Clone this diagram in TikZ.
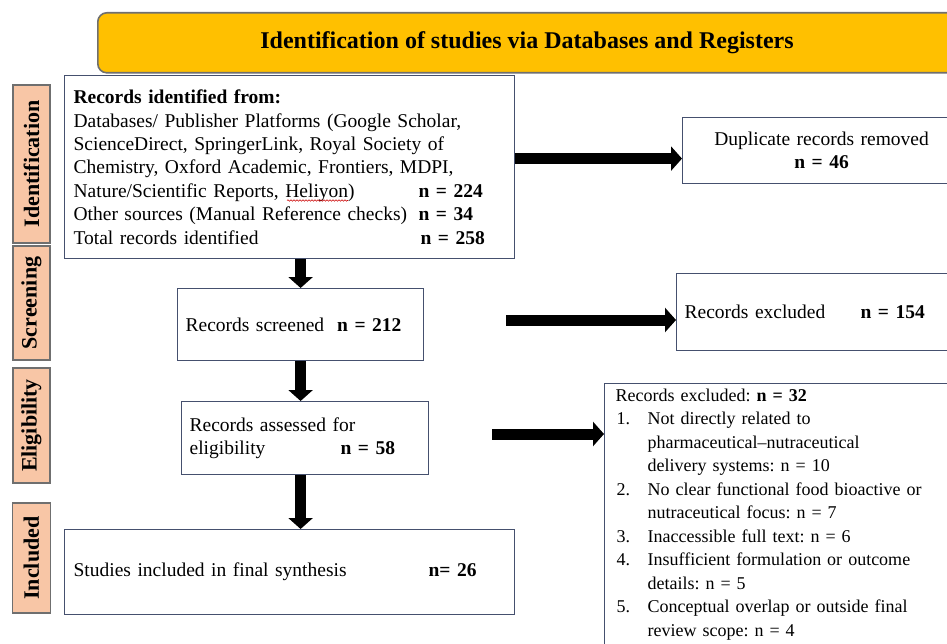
\documentclass[tikz,border=0pt]{standalone}
\usepackage{fontspec}
\setmainfont{Liberation Serif}
\usetikzlibrary{arrows.meta,calc,decorations.pathmorphing}
\definecolor{titlefill}{HTML}{FFC000}
\definecolor{titleline}{HTML}{6F6F6F}
\definecolor{peach}{HTML}{F8C6A6}
\definecolor{boxline}{HTML}{45506E}
\tikzset{
  box/.style={draw=boxline, line width=1.2pt, fill=white, rectangle, inner sep=0pt, anchor=north west},
  side/.style={draw=titleline, line width=1.2pt, fill=peach, rectangle, rotate=90, inner sep=0pt,
    font=\fontsize{22}{24}\selectfont\bfseries},
  fat/.style={line width=11pt, -{Triangle[width=24pt,length=11pt]}, black},
  body/.style={font=\fontsize{19.5}{23.4}\selectfont\frenchspacing},
  small/.style={font=\fontsize{18}{23.5}\selectfont\frenchspacing}
}
\begin{document}
\begin{tikzpicture}[x=1pt,y=-1pt]
\useasboundingbox (0,0) rectangle (947,644);
\begin{scope}
\clip (0,0) rectangle (947,644);
% title
\node[draw=titleline, line width=1.6pt, fill=titlefill, rounded corners=9pt, rectangle,
  minimum width=863pt, minimum height=60pt, anchor=north west, inner sep=0pt] (title) at (97,12) {};
\node[font=\fontsize{24}{26}\selectfont\bfseries] (titletext) at (527,43) {Identification of studies via Databases and Registers};
% side labels
\node[side, minimum width=158pt, minimum height=37pt] (sid) at (31.5,164) {Identification};
\node[side, minimum width=114pt, minimum height=37pt] (ssc) at (31.5,303) {Screening};
\node[side, minimum width=115pt, minimum height=37pt] (sel) at (31.5,425.5) {Eligibility};
\node[side, minimum width=110pt, minimum height=38pt] (sin) at (31.5,558) {Included};
% main boxes
\node[box, body, minimum width=450pt, minimum height=183pt, text width=432pt, inner xsep=9pt, align=left] (idbox) at (64,75)
{\textbf{Records identified from:}\\
Databases/ Publisher Platforms (Google Scholar,\\
ScienceDirect, SpringerLink, Royal Society of\\
Chemistry, Oxford Academic, Frontiers, MDPI,\\
\makebox[345pt][l]{Nature/Scientific Reports, Heliyon)}\textbf{n = 224}\\
\makebox[345pt][l]{Other sources (Manual Reference checks)}\textbf{n = 34}\\
\makebox[347pt][l]{Total records identified}\textbf{n = 258}};
\node[box, body, minimum width=246pt, minimum height=72pt, text width=230pt, inner xsep=8pt, align=left] (screen) at (177,288)
{Records screened\ \ \textbf{n = 212}};
\node[box, body, minimum width=247pt, minimum height=73pt, text width=231pt, inner xsep=8pt, align=left] (elig) at (181,401)
{Records assessed for\\ \makebox[151pt][l]{eligibility}\textbf{n = 58}};
\node[box, body, minimum width=450pt, minimum height=85pt, text width=432pt, inner xsep=9pt, align=left] (incl) at (64,529)
{\makebox[355pt][l]{Studies included in final synthesis}\textbf{n= 26}};
% right boxes
\node[box, body, minimum width=278pt, minimum height=66pt, text width=270pt, inner xsep=4pt, align=center] (dup) at (682,117)
{Duplicate records removed\\ \textbf{n = 46}};
\node[box, body, minimum width=284pt, minimum height=77pt, text width=276pt, inner xsep=8pt, align=left] (excl) at (676,273)
{\makebox[176pt][l]{Records excluded}\textbf{n = 154}};
\node[box, small, minimum width=356pt, text width=344pt, inner xsep=11pt, inner ysep=5pt, align=left] (excl2) at (604,383)
{Records excluded: \textbf{n = 32}\\
\makebox[32pt][l]{\hspace*{1pt}1.}Not directly related to\\
\hspace*{32pt}pharmaceutical–nutraceutical\\
\hspace*{32pt}delivery systems: n = 10\\
\makebox[32pt][l]{\hspace*{1pt}2.}No clear functional food bioactive or\\
\hspace*{32pt}nutraceutical focus: n = 7\\
\makebox[32pt][l]{\hspace*{1pt}3.}Inaccessible full text: n = 6\\
\makebox[32pt][l]{\hspace*{1pt}4.}Insufficient formulation or outcome\\
\hspace*{32pt}details: n = 5\\
\makebox[32pt][l]{\hspace*{1pt}5.}Conceptual overlap or outside final\\
\hspace*{32pt}review scope: n = 4\\
\strut};
% arrows
\draw[fat] (idbox.south -| screen.north) -- (screen.north);
\draw[fat] (screen.south) -- (elig.north -| screen.south);
\draw[fat] (elig.south -| screen.south) -- (incl.north -| screen.south);
\draw[fat] ($(idbox.east |- dup.west)+(0,8)$) -- ($(dup.west)+(0,8)$);
\coordinate (scfree) at (506,320);
\draw[fat] (scfree) -- (scfree -| excl.west);
\coordinate (elfree) at (492,434);
\draw[fat] (elfree) -- (elfree -| excl2.west);
% spell-check squiggle under Heliyon
\draw[red!80!black, line width=0.6pt, decorate, decoration={snake, amplitude=0.7pt, segment length=3pt}] (287,200.5) -- (348,200.5);
\end{scope}
\end{tikzpicture}
\end{document}
